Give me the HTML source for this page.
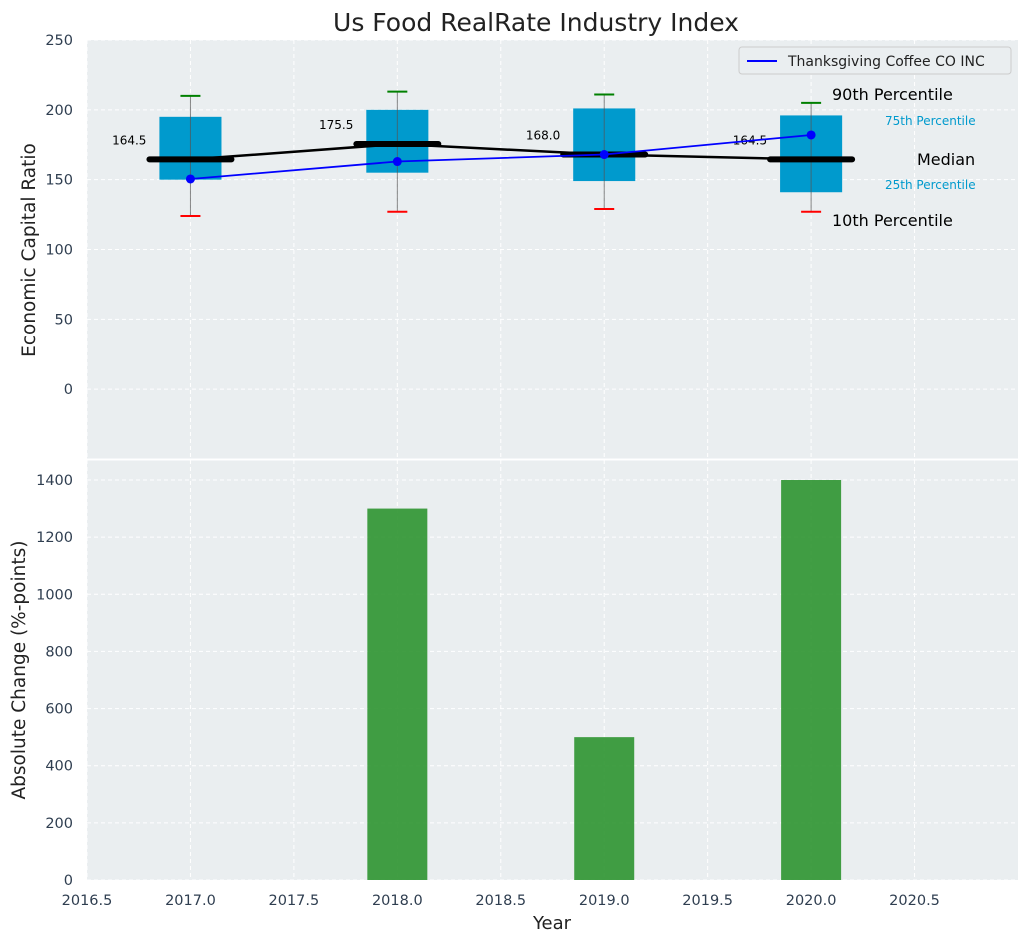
<!DOCTYPE html>
<html><head><meta charset="utf-8">
<style>
body{margin:0;background:#fff;}
svg{display:block;font-family:"DejaVu Sans","Liberation Sans",sans-serif;}
</style></head>
<body>
<svg id="chart" width="1026" height="942"></svg>
<script>
const years=[2017,2018,2019,2020];
const p10=[124,127,129,127];
const q1=[150,155,149,141];
const medians=[164.5,175.5,168.0,164.5];
const q3=[195,200,201,196];
const p90=[210,213,211,205];
const company=[150.5,163,168,182];
const changeYears=[2018,2019,2020];
const changes=[1300,500,1400];
const xTicks=[2016.5,2017.0,2017.5,2018.0,2018.5,2019.0,2019.5,2020.0,2020.5];
const yTopTicks=[0,50,100,150,200,250];
const yBotTicks=[0,200,400,600,800,1000,1200,1400];

const NS="http://www.w3.org/2000/svg";
const svg=document.getElementById('chart');
function el(tag,attrs,parent){const e=document.createElementNS(NS,tag);for(const k in attrs)e.setAttribute(k,attrs[k]);(parent||svg).appendChild(e);return e;}
const L=87,R=1018,T1=40,B1=459,T2=460,B2=880;
const X=v=>L+(v-2016.5)/(4.5)*(R-L);
const Y1=v=>T1+(250-v)/300*(B1-T1);
const Y2=v=>B2-v/1470*(B2-T2);

let r=el('rect',{x:L,y:T1,width:R-L,height:B1-T1,fill:'#eaeef0'});

r=el('rect',{x:L,y:T2,width:R-L,height:B2-T2,fill:'#eaeef0'});


xTicks.forEach(t=>{
 el('line',{x1:X(t),x2:X(t),y1:T1,y2:B1,stroke:'#fff','stroke-dasharray':'4,3','stroke-width':1});
 el('line',{x1:X(t),x2:X(t),y1:T2,y2:B2,stroke:'#fff','stroke-dasharray':'4,3','stroke-width':1});
 const tx=el('text',{x:X(t),y:905,'text-anchor':'middle','font-size':14.5,fill:'#2f3e50'});tx.textContent=t.toFixed(1);
 
});
yTopTicks.forEach(t=>{
 el('line',{x1:L,x2:R,y1:Y1(t),y2:Y1(t),stroke:'#fff','stroke-dasharray':'4,3'});
 const tx=el('text',{x:73,y:Y1(t)+5,'text-anchor':'end','font-size':14.5,fill:'#2f3e50'});tx.textContent=t;
 
});
yBotTicks.forEach(t=>{
 el('line',{x1:L,x2:R,y1:Y2(t),y2:Y2(t),stroke:'#fff','stroke-dasharray':'4,3'});
 const tx=el('text',{x:73,y:Y2(t)+5,'text-anchor':'end','font-size':14.5,fill:'#2f3e50'});tx.textContent=t;
 
});
el('line',{x1:L,x2:R,y1:459.5,y2:459.5,stroke:'#fff','stroke-width':2});

const bw=0.3*(R-L)/4.5;
years.forEach((y,i)=>{
 const x=X(y);
 const b=el('rect',{x:x-bw/2,y:Y1(q3[i]),width:bw,height:Y1(q1[i])-Y1(q3[i]),fill:'#009ACD'});
 
 el('line',{x1:x,x2:x,y1:Y1(p90[i]),y2:Y1(p10[i]),stroke:'#555','stroke-width':1,opacity:0.7});
 el('line',{x1:x-10,x2:x+10,y1:Y1(p90[i]),y2:Y1(p90[i]),stroke:'green','stroke-width':2});
 el('line',{x1:x-10,x2:x+10,y1:Y1(p10[i]),y2:Y1(p10[i]),stroke:'red','stroke-width':2});
});
let pts=years.map((y,i)=>X(y)+','+Y1(medians[i])).join(' ');
let pl=el('polyline',{points:pts,fill:'none',stroke:'#000','stroke-width':2.5});

years.forEach((y,i)=>{
 const x=X(y);
 const m=el('line',{x1:x-41,x2:x+41,y1:Y1(medians[i]),y2:Y1(medians[i]),stroke:'#000','stroke-width':6,'stroke-linecap':'round'});
 
 const t=el('text',{x:x-44,y:Y1(medians[i])-15,'text-anchor':'end','font-size':12,fill:'#000'});t.textContent=medians[i].toFixed(1);
 
});
pts=years.map((y,i)=>X(y)+','+Y1(company[i])).join(' ');
pl=el('polyline',{points:pts,fill:'none',stroke:'#0000ff','stroke-width':1.8});

years.forEach((y,i)=>{
 const c=el('circle',{cx:X(y),cy:Y1(company[i]),r:4.5,fill:'#0000ff'});
 
});
const ann=[[832,100,'90th Percentile',16,'#000'],[885,125,'75th Percentile',12,'#009ACD'],[917,165,'Median',16,'#000'],[885,189,'25th Percentile',12,'#009ACD'],[832,226,'10th Percentile',16,'#000']];
ann.forEach(a=>{const t=el('text',{x:a[0],y:a[1],'font-size':a[3],fill:a[4]});t.textContent=a[2];
 });
const lg=el('g',{});
el('rect',{x:739,y:47,width:272,height:27,rx:3,fill:'#eaeef0',stroke:'#ccc'},lg);
el('line',{x1:747,x2:777,y1:61,y2:61,stroke:'#0000ff','stroke-width':2},lg);
let t=el('text',{x:788,y:66,'font-size':14,fill:'#222'},lg);t.textContent='Thanksgiving Coffee CO INC';
const bbw=0.29*(R-L)/4.5;
changeYears.forEach((y,i)=>{
 const b=el('rect',{x:X(y)-bbw/2,y:Y2(changes[i]),width:bbw,height:B2-Y2(changes[i]),fill:'#2e9430',opacity:0.9});
 
});
t=el('text',{x:536,y:31,'text-anchor':'middle','font-size':25,fill:'#222'});t.textContent='Us Food RealRate Industry Index';

t=el('text',{x:552,y:929,'text-anchor':'middle','font-size':18,fill:'#222'});t.textContent='Year';

t=el('text',{x:0,y:0,'text-anchor':'middle','font-size':18.5,fill:'#222',transform:'translate(35,250) rotate(-90)'});t.textContent='Economic Capital Ratio';

t=el('text',{x:0,y:0,'text-anchor':'middle','font-size':18.5,fill:'#222',transform:'translate(25,670) rotate(-90)'});t.textContent='Absolute Change (%-points)';

</script>
</body></html>
